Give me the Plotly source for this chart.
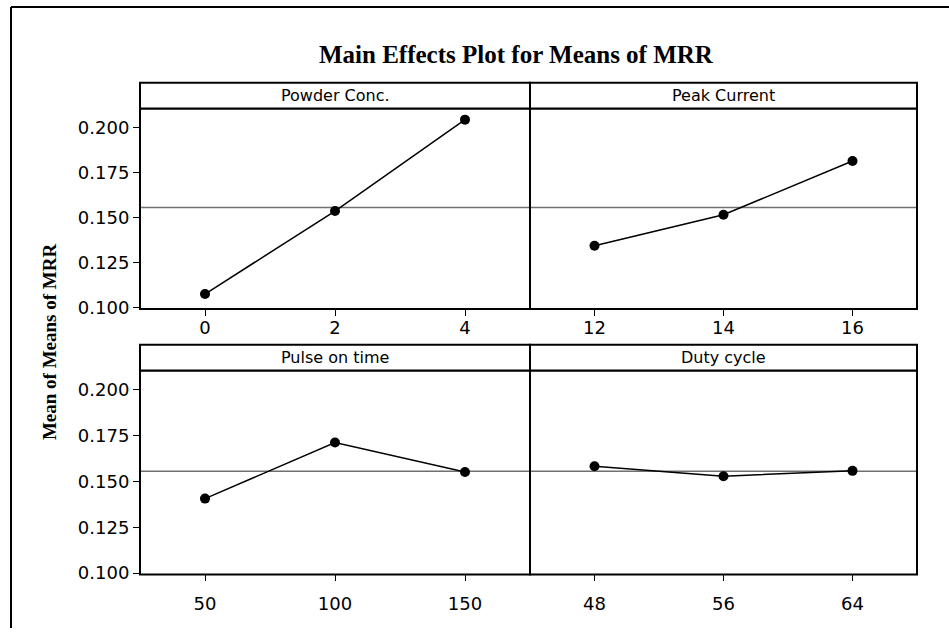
import plotly.graph_objects as go

# ---- data ----
factors = ["Powder Conc.", "Peak Current", "Pulse on time", "Duty cycle"]
powder_levels = [0, 2, 4]
powder_means = [0.1076, 0.1536, 0.2042]
peak_levels = [12, 14, 16]
peak_means = [0.1344, 0.1515, 0.1813]
pulse_levels = [50, 100, 150]
pulse_means = [0.1406, 0.1711, 0.1551]
duty_levels = [48, 56, 64]
duty_means = [0.1582, 0.1528, 0.1557]
grand_mean = 0.1555
y_ticks = [0.100, 0.125, 0.150, 0.175, 0.200]
y_tick_labels = ["0.100", "0.125", "0.150", "0.175", "0.200"]

W, H = 949, 637
def px(x):
    return x / W
def py(y):
    return 1 - y / H

col_x = [(140, 530), (530, 917)]
row_y = [(110, 313.5), (375.7, 582.7)]
row_standoff = [-4, 7]
strip_h = 26

panels = [
    (factors[0], powder_levels, powder_means, 0, 0),
    (factors[1], peak_levels, peak_means, 0, 1),
    (factors[2], pulse_levels, pulse_means, 1, 0),
    (factors[3], duty_levels, duty_means, 1, 1),
]

fig = go.Figure()
layout = dict(
    width=W, height=H,
    margin=dict(l=0, r=0, t=0, b=0),
    paper_bgcolor="white", plot_bgcolor="white",
    showlegend=False,
    font=dict(family="DejaVu Sans", color="black"),
)
shapes = []
annotations = []

for i, (name, lv, mv, r, c) in enumerate(panels):
    k = i + 1
    xa = "xaxis" if k == 1 else f"xaxis{k}"
    ya = "yaxis" if k == 1 else f"yaxis{k}"
    xr = "x" if k == 1 else f"x{k}"
    yr = "y" if k == 1 else f"y{k}"
    step = lv[1] - lv[0]
    x0, x1 = col_x[c]
    y0, y1 = row_y[r]
    layout[xa] = dict(
        domain=[px(x0), px(x1)], anchor=yr,
        range=[lv[0] - step / 2, lv[-1] + step / 2],
        tickvals=lv, ticktext=[str(v) for v in lv],
        ticks="outside", ticklen=6, tickwidth=1.3, tickcolor="black",
        ticklabelstandoff=row_standoff[r],
        showline=False, showgrid=False, zeroline=False,
        tickfont=dict(family="DejaVu Sans", size=18, color="black"),
        fixedrange=True,
    )
    layout[ya] = dict(
        domain=[py(y1), py(y0)], anchor=xr,
        range=[0.0993, 0.2104],
        tickvals=y_ticks, ticktext=y_tick_labels,
        ticks="outside" if c == 0 else "", ticklen=6, tickwidth=1.3, tickcolor="black",
        showticklabels=(c == 0),
        showline=False, showgrid=False, zeroline=False,
        tickfont=dict(family="DejaVu Sans", size=18, color="black"),
        fixedrange=True,
    )
    # grand mean line
    fig.add_trace(go.Scatter(
        x=[lv[0] - step / 2, lv[-1] + step / 2], y=[grand_mean, grand_mean],
        mode="lines", line=dict(color="#707070", width=1.5),
        xaxis=xr, yaxis=yr, hoverinfo="skip",
    ))
    fig.add_trace(go.Scatter(
        x=lv, y=mv, mode="lines+markers",
        line=dict(color="black", width=1.5),
        marker=dict(color="black", size=10),
        xaxis=xr, yaxis=yr,
    ))
    # panel frame
    shapes.append(dict(
        type="rect", xref="paper", yref="paper",
        x0=px(x0), x1=px(x1), y0=py(y1), y1=py(y0),
        line=dict(color="black", width=2), fillcolor="rgba(0,0,0,0)",
    ))
    # strip header
    shapes.append(dict(
        type="rect", xref="paper", yref="paper",
        x0=px(x0), x1=px(x1), y0=py(y0), y1=py(y0 - strip_h),
        line=dict(color="black", width=2), fillcolor="white",
    ))
    annotations.append(dict(
        text=name, xref="paper", yref="paper",
        x=px((x0 + x1) / 2), y=py(y0 - strip_h / 2),
        xanchor="center", yanchor="middle", showarrow=False,
        font=dict(family="DejaVu Sans", size=16, color="black"),
    ))

# outer frame (top and left edges visible)
shapes.append(dict(type="line", xref="paper", yref="paper",
                   x0=px(11), x1=1.0, y0=py(7), y1=py(7),
                   line=dict(color="black", width=2)))
shapes.append(dict(type="line", xref="paper", yref="paper",
                   x0=px(11), x1=px(11), y0=py(7), y1=0,
                   line=dict(color="black", width=2)))

annotations.append(dict(
    text="<b>Main Effects Plot for Means of MRR</b>",
    xref="paper", yref="paper", x=px(516), y=py(55),
    xanchor="center", yanchor="middle", showarrow=False,
    font=dict(family="Liberation Serif", size=25, color="black"),
))
annotations.append(dict(
    text="<b>Mean of Means of MRR</b>",
    xref="paper", yref="paper", x=px(49), y=py(347),
    xanchor="center", yanchor="middle", showarrow=False, textangle=-90,
    font=dict(family="Liberation Serif", size=19, color="black"),
))

layout["shapes"] = shapes
layout["annotations"] = annotations
fig.update_layout(**layout)
fig.write_html("out.html")
